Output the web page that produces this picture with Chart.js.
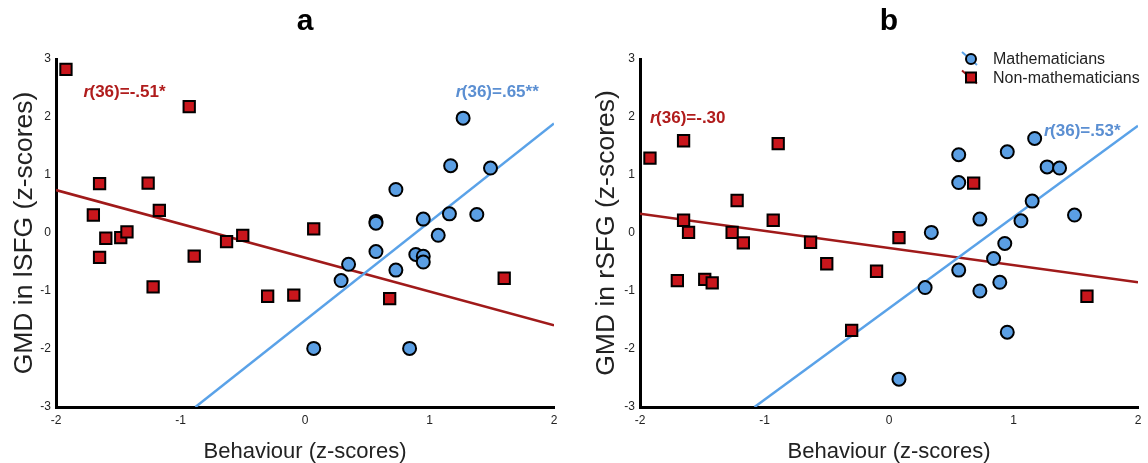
<!DOCTYPE html>
<html>
<head>
<meta charset="utf-8">
<script src="https://cdn.jsdelivr.net/npm/chart.js@4.4.1/dist/chart.umd.min.js"></script>
<style>
    html, body { margin: 0; padding: 0; background: #fff; }
    #wrap { position: relative; width: 1148px; height: 463px; }
    .panel { position: absolute; top: 0; width: 574px; height: 463px; }
</style>
</head>
<body>
<div id="wrap">
    <div class="panel" style="left:0"><canvas id="chartA" width="574" height="463"></canvas></div>
    <div class="panel" style="left:574px"><canvas id="chartB" width="574" height="463"></canvas></div>
</div>
<script>
// axis ticks
var xTicks = [-2, -1, 0, 1, 2];
var yTicks = [-3, -2, -1, 0, 1, 2, 3];

var groupNames = ['Mathematicians', 'Non-mathematicians'];

// panel a (left SFG)
var aMathX = [1.27, 1.17, 1.49, 0.73, 0.57, 0.57, 0.95, 1.16, 1.38, 1.07, 0.57, 0.35, 0.29, 0.73, 0.89, 0.95, 0.95, 0.07, 0.84];
var aMathY = [1.98, 1.16, 1.12, 0.75, 0.20, 0.17, 0.24, 0.33, 0.32, -0.04, -0.32, -0.54, -0.82, -0.64, -0.37, -0.40, -0.50, -1.99, -1.99];
var aNonX = [-1.92, -0.93, -1.65, -1.26, -1.70, -1.17, -1.60, -1.48, -1.43, -1.65, -1.22, -0.89, -0.63, -0.50, -0.30, -0.09, 0.07, 0.68, 1.60];
var aNonY = [2.82, 2.18, 0.85, 0.86, 0.31, 0.39, -0.09, -0.08, 0.02, -0.42, -0.93, -0.40, -0.15, -0.04, -1.09, -1.07, 0.07, -1.13, -0.78];
var aMathFit = [[-0.88, -3], [2, 1.89]];
var aNonFit = [[-2, 0.74], [2, -1.59]];
var aMathR = '(36)=.65**';
var aNonR = '(36)=-.51*';

// panel b (right SFG)
var bMathX = [1.17, 0.95, 0.56, 1.27, 1.37, 0.56, 1.15, 1.49, 0.73, 1.06, 0.34, 0.93, 0.84, 0.56, 0.29, 0.73, 0.89, 0.95, 0.08];
var bMathY = [1.63, 1.40, 1.35, 1.14, 1.12, 0.87, 0.55, 0.31, 0.24, 0.21, 0.01, -0.18, -0.44, -0.64, -0.94, -1.00, -0.85, -1.71, -2.52];
var bNonX = [-1.92, -1.65, -0.89, -1.22, -1.65, -0.93, -1.61, -1.26, -1.17, -0.63, -0.50, -0.10, -1.70, -1.48, -1.42, -0.30, 0.68, 0.08, 1.59];
var bNonY = [1.29, 1.59, 1.54, 0.56, 0.22, 0.22, 0.01, 0.01, -0.17, -0.16, -0.53, -0.66, -0.82, -0.80, -0.86, -1.68, 0.86, -0.08, -1.09];
var bMathFit = [[-1.08, -3], [2, 1.85]];
var bNonFit = [[-2, 0.33], [2, -0.85]];
var bMathR = '(36)=.53*';
var bNonR = '(36)=-.30';

var BLUE = '#5b9fe4';
var BLUE_LINE = '#5aa2e8';
var BLUE_TEXT = '#5b8fd2';
var RED = '#c9161c';
var RED_LINE = '#a01a1a';
var RED_TEXT = '#b01c1c';
var FONT = "'Liberation Sans', Arial, sans-serif";

function toPoints(xs, ys) {
    return xs.map(function(x, i) { return { x: x, y: ys[i] }; });
}

function fitPoints(fit) {
    return fit.map(function(p) { return { x: p[0], y: p[1] }; });
}

// r(36)=... labels, with the r in italics
var statsPlugin = {
    id: 'stats',
    afterDatasetsDraw: function(chart, args, opts) {
        var ctx = chart.ctx;
        var xs = chart.scales.x, ys = chart.scales.y;
        (opts.items || []).forEach(function(it) {
            var px = xs.getPixelForValue(it.x);
            var py = ys.getPixelForValue(it.y);
            ctx.save();
            ctx.fillStyle = it.color;
            ctx.textBaseline = 'middle';
            ctx.textAlign = 'left';
            ctx.font = 'italic bold 17px ' + FONT;
            ctx.fillText('r', px, py);
            var w = ctx.measureText('r').width;
            ctx.font = 'bold 17px ' + FONT;
            ctx.fillText(it.text, px + w - 0.5, py);
            ctx.restore();
        });
    }
};

// legend with the fit line crossing the marker
var legendPlugin = {
    id: 'fitLegend',
    afterDraw: function(chart, args, opts) {
        if (!opts.show) return;
        var ctx = chart.ctx;
        var ca = chart.chartArea;
        var x0 = ca.left + opts.offsetX, y0 = ca.top + opts.offsetY;
        var items = [
            { label: groupNames[0], line: BLUE_LINE, fill: BLUE, shape: 'circle' },
            { label: groupNames[1], line: RED_LINE, fill: RED, shape: 'rect' }
        ];
        items.forEach(function(it, i) {
            var cx = x0, cy = y0 + i * 18.5;
            ctx.save();
            ctx.strokeStyle = it.line;
            ctx.lineWidth = 2;
            ctx.beginPath();
            ctx.moveTo(cx - 9, cy - 7);
            ctx.lineTo(cx + 6, cy + 6);
            ctx.stroke();
            ctx.fillStyle = it.fill;
            ctx.strokeStyle = '#000';
            ctx.lineWidth = 2;
            ctx.beginPath();
            if (it.shape === 'circle') {
                ctx.arc(cx, cy, 5, 0, Math.PI * 2);
            } else {
                ctx.rect(cx - 5, cy - 5, 10, 10);
            }
            ctx.fill();
            ctx.stroke();
            ctx.fillStyle = '#222';
            ctx.font = '16px ' + FONT;
            ctx.textBaseline = 'middle';
            ctx.fillText(it.label, cx + 22, cy + 1);
            ctx.restore();
        });
    }
};

function makeChart(id, cfg) {
    var ctx = document.getElementById(id);
    return new Chart(ctx, {
        type: 'scatter',
        data: {
            datasets: [{
                label: groupNames[0],
                data: toPoints(cfg.mathX, cfg.mathY),
                pointStyle: 'circle',
                pointRadius: 6.5,
                pointBorderWidth: 2,
                backgroundColor: BLUE,
                borderColor: '#000',
                order: 1
            }, {
                label: groupNames[1],
                data: toPoints(cfg.nonX, cfg.nonY),
                pointStyle: 'rect',
                pointRadius: 8,
                pointBorderWidth: 2,
                backgroundColor: RED,
                borderColor: '#000',
                order: 1
            }, {
                type: 'line',
                data: fitPoints(cfg.mathFit),
                borderColor: BLUE_LINE,
                borderWidth: 2.5,
                pointRadius: 0,
                order: 2
            }, {
                type: 'line',
                data: fitPoints(cfg.nonFit),
                borderColor: RED_LINE,
                borderWidth: 2.5,
                pointRadius: 0,
                order: 2
            }]
        },
        options: {
            responsive: false,
            animation: false,
            events: [],
            layout: { padding: { left: 0, right: cfg.padRight, top: 0, bottom: 0 } },
            scales: {
                x: {
                    type: 'linear',
                    min: -2,
                    max: 2,
                    afterBuildTicks: function(scale) {
                        scale.ticks = xTicks.map(function(v) { return { value: v }; });
                    },
                    afterFit: function(scale) { scale.height = 56; },
                    grid: { display: false, drawTicks: false },
                    border: { display: true, color: '#000', width: 3 },
                    ticks: { color: '#222', font: { size: 12, family: FONT }, padding: 6 },
                    title: {
                        display: true,
                        text: 'Behaviour (z-scores)',
                        color: '#222',
                        font: { size: 22, family: FONT, lineHeight: 1 },
                        padding: { top: 0, bottom: 0 }
                    }
                },
                y: {
                    type: 'linear',
                    min: -3,
                    max: 3,
                    afterBuildTicks: function(scale) {
                        scale.ticks = yTicks.map(function(v) { return { value: v }; });
                    },
                    afterFit: function(scale) { scale.width = cfg.yWidth; },
                    grid: { display: false, drawTicks: false },
                    border: { display: true, color: '#000', width: 3 },
                    ticks: { color: '#222', font: { size: 12, family: FONT }, padding: 5 },
                    title: {
                        display: true,
                        text: cfg.yTitle,
                        color: '#222',
                        font: { size: 26.5, family: FONT },
                        padding: { top: cfg.yTitlePad, bottom: 0 }
                    }
                }
            },
            plugins: {
                legend: { display: false },
                tooltip: { enabled: false },
                title: {
                    display: true,
                    fullSize: false,
                    text: cfg.panel,
                    color: '#000',
                    font: { size: 30, weight: 'bold', family: FONT },
                    padding: { top: 4, bottom: 19 }
                },
                stats: { items: cfg.stats },
                fitLegend: { show: cfg.legend, offsetX: 331, offsetY: 0 }
            }
        },
        plugins: [statsPlugin, legendPlugin]
    });
}

makeChart('chartA', {
    panel: 'a',
    yTitle: 'GMD in lSFG (z-scores)',
    mathX: aMathX, mathY: aMathY, nonX: aNonX, nonY: aNonY,
    mathFit: aMathFit, nonFit: aNonFit,
    yWidth: 56, yTitlePad: 9, padRight: 20,
    legend: false,
    stats: [
        { x: -1.78, y: 2.43, text: aNonR, color: RED_TEXT },
        { x: 1.21, y: 2.43, text: aMathR, color: BLUE_TEXT }
    ]
});

makeChart('chartB', {
    panel: 'b',
    yTitle: 'GMD in rSFG (z-scores)',
    mathX: bMathX, mathY: bMathY, nonX: bNonX, nonY: bNonY,
    mathFit: bMathFit, nonFit: bNonFit,
    yWidth: 66, yTitlePad: 17, padRight: 9,
    legend: true,
    stats: [
        { x: -1.92, y: 1.97, text: bNonR, color: RED_TEXT },
        { x: 1.245, y: 1.76, text: bMathR, color: BLUE_TEXT }
    ]
});
</script>
</body>
</html>
